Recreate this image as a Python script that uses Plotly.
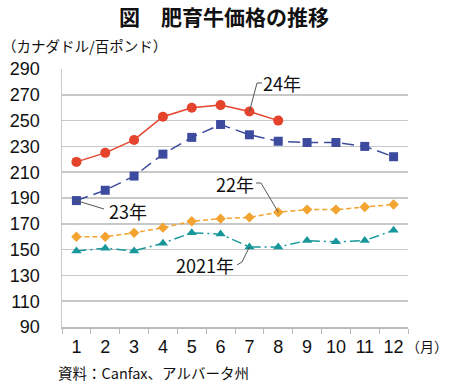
import plotly.graph_objects as go

months = [str(m) for m in range(1, 13)]
y2024 = [218, 225, 235, 253, 260, 262, 257, 250]
y2023 = [188, 196, 207, 224, 237, 247, 239, 234, 233, 233, 230, 222]
y2022 = [160, 160, 163, 167, 172, 174, 175, 179, 181, 181, 183, 185]
y2021 = [149, 151, 149, 155, 163, 162, 152, 152, 157, 156, 157, 165]
yticks = list(range(90, 291, 20))
YMIN, YMAX = 90, 290

JP = "Noto Sans CJK JP"
NUM = "Liberation Sans, Arial, Noto Sans CJK JP"

PL, PT, PW, PH = 62, 69, 346, 258  # plot area in window pixels
W, H = 450, 385


def px(X):
    return (X - PL) / PW


def py(Y):
    return (PT + PH - Y) / PH


def dx(i):  # category index -> paper x
    return (i + 0.5) / len(months)


def dy(v):  # data value -> paper y
    return (v - YMIN) / (YMAX - YMIN)


fig = go.Figure()
fig.add_trace(go.Scatter(x=months, y=y2021, mode="lines+markers", name="2021年",
                         line=dict(color="#17979A", width=1.5, dash="10px,4px,2px,4px"),
                         marker=dict(symbol="triangle-up", size=9, color="#17979A")))
fig.add_trace(go.Scatter(x=months, y=y2022, mode="lines+markers", name="22年",
                         line=dict(color="#F2A330", width=1.5, dash="5px,3px"),
                         marker=dict(symbol="diamond", size=8, color="#F2A330")))
fig.add_trace(go.Scatter(x=months, y=y2023, mode="lines+markers", name="23年",
                         line=dict(color="#3C4B9E", width=1.5, dash="12px,6px"),
                         marker=dict(symbol="square", size=9, color="#3C4B9E")))
fig.add_trace(go.Scatter(x=months[:len(y2024)], y=y2024, mode="lines+markers", name="24年",
                         line=dict(color="#E5432B", width=1.5),
                         marker=dict(symbol="circle", size=10, color="#E5432B")))

ann_font = dict(family=JP, size=18, color="#111")


def label(text, X, Y):
    return dict(xref="paper", yref="paper", x=px(X), y=py(Y), xanchor="center", yanchor="middle",
                text=text, showarrow=False, font=ann_font)


annotations = [
    label("24年", 282, 83),
    label("23年", 128, 211),
    label("22年", 235, 184),
    label("2021年", 205, 265),
    dict(xref="paper", yref="paper", x=px(0), y=py(45), xanchor="left", yanchor="middle",
         text="（カナダドル/百ポンド）", showarrow=False, font=dict(family=JP, size=14.5, color="#111")),
    dict(xref="paper", yref="paper", x=px(56), y=py(372), xanchor="left", yanchor="middle",
         text="資料：Canfax、アルバータ州", showarrow=False, font=dict(family=JP, size=14.5, color="#111")),
    dict(xref="paper", yref="paper", x=px(404), y=py(346), xanchor="left", yanchor="middle",
         text="（月）", showarrow=False, font=dict(family=JP, size=14, color="#111")),
    dict(xref="paper", yref="paper", x=px(224), y=py(16), xanchor="center", yanchor="middle",
         text="<b>図　肥育牛価格の推移</b>", showarrow=False, font=dict(family=JP, size=21, color="#111")),
]


def leader(points_px, end_idx, end_val):
    pts = [(px(X), py(Y)) for X, Y in points_px] + [(dx(end_idx), dy(end_val))]
    path = "M " + " L ".join(f"{a:.4f},{b:.4f}" for a, b in pts)
    return dict(type="path", xref="paper", yref="paper", path=path,
                line=dict(color="#555555", width=1))


shapes = [
    leader([(262, 83), (257, 83)], 6, y2024[6]),
    leader([(104, 209)], 0, y2023[0]),
    leader([(256, 183), (261, 183)], 7, y2022[7]),
    leader([(237, 265), (242, 262)], 6, y2021[6]),
]

fig.update_layout(
    width=W, height=H,
    margin=dict(l=PL, r=W - PL - PW, t=PT, b=H - PT - PH),
    paper_bgcolor="white", plot_bgcolor="white",
    showlegend=False,
    hovermode=False,
    annotations=annotations,
    shapes=shapes,
    xaxis=dict(type="category", categoryorder="array", categoryarray=months,
               range=[-0.5, 11.5], tickson="boundaries", ticks="outside", ticklen=5,
               tickcolor="#bbbbbb", showline=True, linecolor="#bbbbbb", linewidth=1.5,
               showgrid=False, ticklabelstandoff=3, tickangle=0, automargin=False,
               tickfont=dict(family=NUM, size=18, color="#111")),
    yaxis=dict(range=[YMIN, YMAX], tickvals=yticks, showline=True, linecolor="#c8c8c8",
               linewidth=1.5, gridcolor="#c8c8c8", gridwidth=1.5, zeroline=False,
               ticks="", ticklabelstandoff=17, automargin=False,
               tickfont=dict(family=NUM, size=18, color="#111")),
)

# remove the browser's default 8px body margin so the figure fills the window
fig.write_html("out.html", config={"displayModeBar": False, "staticPlot": True},
               post_script="document.body.style.margin='0';")
